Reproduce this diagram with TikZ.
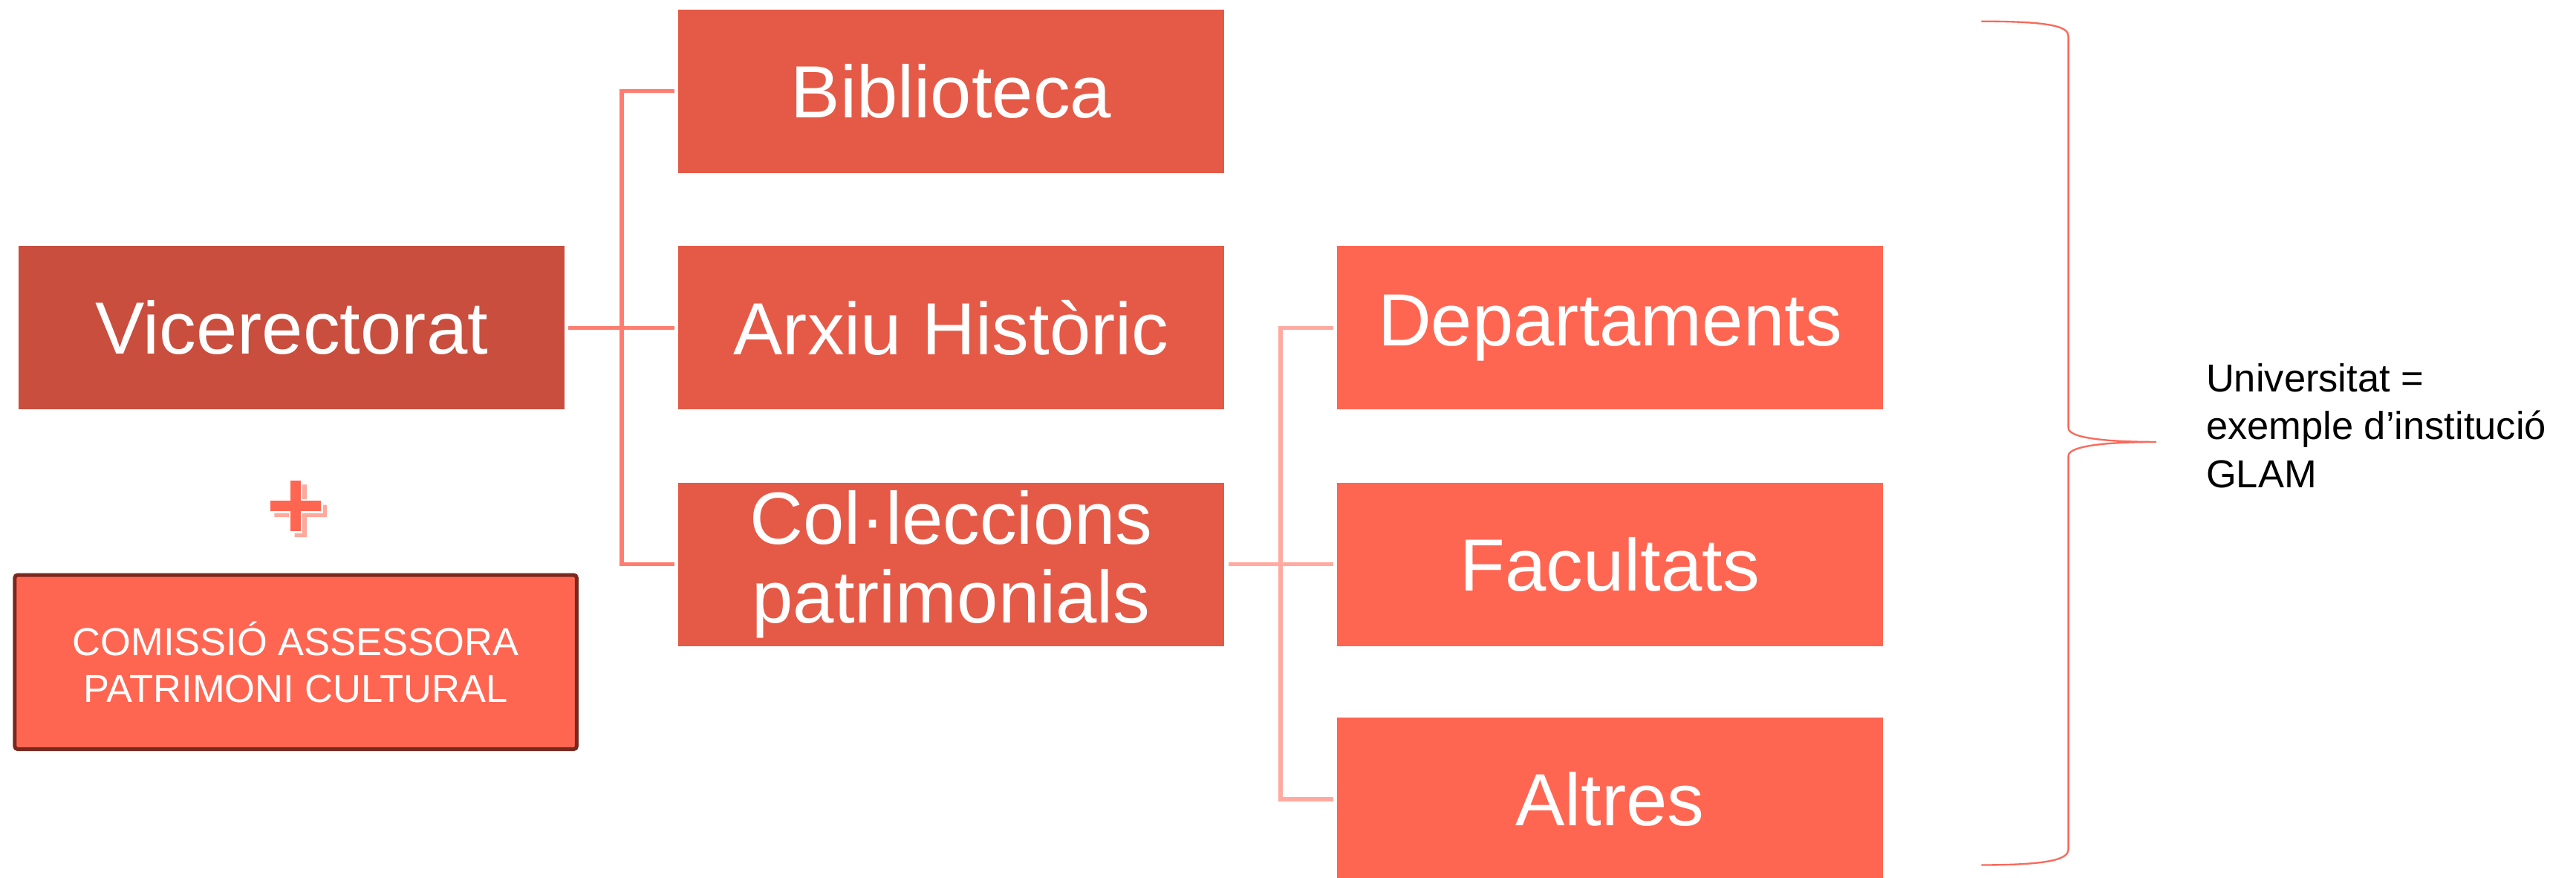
\documentclass[tikz,border=0pt]{standalone}
\usepackage{fontspec}
\setmainfont{Liberation Sans}
\usetikzlibrary{positioning}

\definecolor{vicered}{RGB}{201,78,62}
\definecolor{midred}{RGB}{229,90,71}
\definecolor{lightred}{RGB}{255,102,82}
\definecolor{darkrim}{RGB}{122,40,30}
\definecolor{linkred}{RGB}{255,125,112}
\definecolor{linkpink}{RGB}{255,170,160}
\definecolor{bracered}{RGB}{250,105,90}
\definecolor{plusshade}{RGB}{255,168,155}

\tikzset{
	unitbox/.style={minimum width=6.64cm, minimum height=1.99cm, inner sep=0pt,
		text=white, align=center, font=\fontsize{25.6}{27.5}\selectfont},
	link/.style={line width=1.4pt, shorten <=.045cm, shorten >=.045cm},
}

% plus sign, drawn from its centre
\def\pluspath{++(-0.074,-0.32) -- ++(0.148,0) -- ++(0,0.246) -- ++(0.246,0) -- ++(0,0.148)
	-- ++(-0.246,0) -- ++(0,0.246) -- ++(-0.148,0) -- ++(0,-0.246) -- ++(-0.246,0)
	-- ++(0,-0.148) -- ++(0.246,0) -- cycle}

\begin{document}
\begin{tikzpicture}
	\useasboundingbox (0,0) rectangle (31.36,10.68);

	% first level
	\node[unitbox, fill=vicered] (vice) at (3.55,6.69) {Vicerectorat};
	\fill[plusshade] (3.66,4.46) \pluspath;
	\draw[white, line width=.6pt, fill=lightred] (3.6,4.52) \pluspath;
	\node[unitbox, fill=lightred, draw=darkrim, line width=1.3pt, rounded corners=1pt,
		minimum width=6.84cm, minimum height=2.12cm,
		font=\fontsize{13.5}{16.2}\selectfont] (comissio) at (3.6,2.62)
		{COMISSIÓ ASSESSORA\\PATRIMONI CULTURAL};

	% second level
	\node[unitbox, fill=midred] (bib) at (11.58,9.57) {Biblioteca};
	\node[unitbox, fill=midred] (arxiu) at (11.58,6.69) {Arxiu Històric};
	\node[unitbox, fill=midred] (col) at (11.58,3.81) {Col·leccions\\patrimonials};

	% third level
	\node[unitbox, fill=lightred] (dep) at (19.6,6.69) {Departaments};
	\node[unitbox, fill=lightred] (fac) at (19.6,3.81) {Facultats};
	\node[unitbox, fill=lightred] (alt) at (19.6,0.95) {Altres};

	\coordinate (j1) at (7.57,6.69);
	\coordinate (j2) at (15.59,3.81);
	\draw[link, linkred] (vice.east) -- (arxiu.west);
	\draw[link, linkred] (bib.west) -| (j1) |- (col.west);
	\draw[link, linkpink] (col.east) -- (fac.west);
	\draw[link, linkpink] (dep.west) -| (j2) |- (alt.west);

	% brace
	\coordinate (tip) at (26.25,5.30);
	\draw[bracered, line width=.6pt] (24.12,10.42) .. controls (24.95,10.42) and (25.18,10.36) .. (25.18,10.24)
		-- (25.18,5.47) .. controls (25.18,5.34) and (25.7,5.30) .. (tip)
		.. controls (25.7,5.30) and (25.18,5.26) .. (25.18,5.13)
		-- (25.18,0.34) .. controls (25.18,0.22) and (24.95,0.15) .. (24.12,0.15);
	\node[anchor=west, inner sep=0pt, align=left, font=\fontsize{13.5}{16.6}\selectfont] (glam)
		at (26.85,5.50) {Universitat =\\exemple d’institució\\GLAM};
\end{tikzpicture}
\end{document}
